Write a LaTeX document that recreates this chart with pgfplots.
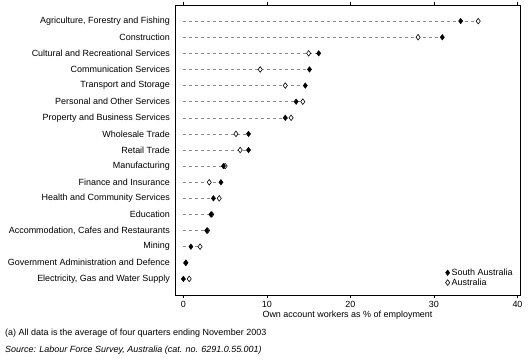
\documentclass[border=0pt]{standalone}
\usepackage{pgfplots}
\pgfplotsset{compat=1.18}
\usepackage{pgfplotstable}
\usepackage{fontspec}
\setmainfont{Liberation Sans}
\pgfplotstableread{
idx sa au
16 33.2 35.3
15 31.0 28.1
14 16.2 15.0
13 15.1 9.2
12 14.6 12.2
11 13.5 14.3
10 12.2 12.9
9 7.8 6.3
8 7.8 6.8
7 4.8 5.0
6 4.5 3.1
5 3.6 4.3
4 3.3 3.4
3 2.8 2.9
2 0.9 2.0
1 0.3 0.3
0 0.0 0.7
}\data
\begin{document}
\fontsize{9}{10.5}\selectfont
\begin{tikzpicture}
\useasboundingbox (-175bp,-68bp) rectangle (354bp,295bp);
\begin{axis}[
  scale only axis,
  width=345bp, height=290bp,
  xmin=-1, xmax=40.3,
  ymin=-1, ymax=17,
  xtick={0,10,20,30,40},
  ytick={0,...,16},
  yticklabels={{Electricity, Gas and Water Supply},{Government Administration and Defence},{Mining},{Accommodation, Cafes and Restaurants},{Education},{Health and Community Services},{Finance and Insurance},{Manufacturing},{Retail Trade},{Wholesale Trade},{Property and Business Services},{Personal and Other Services},{Transport and Storage},{Communication Services},{Cultural and Recreational Services},{Construction},{Agriculture, Forestry and Fishing}},
  y tick style={draw=none},
  x tick style={black, line width=0.5pt},
  tick align=outside,
  major tick length=3bp,
  xtick pos=both,
  xticklabel pos=bottom,
  axis line style={line width=0.6pt},
  /pgf/number format/assume math mode=true,
  tick label style={font=\fontsize{9}{10.5}\selectfont},
  yticklabel style={xshift=1bp},
  xlabel={Own account workers as \% of employment},
  xlabel style={font=\fontsize{9}{10.5}\selectfont, yshift=3bp},
  legend style={at={(0.775,0.015)}, anchor=south west, draw=none, fill=none,
    font=\fontsize{9}{10.5}\selectfont, row sep=-2pt,
    /tikz/every even column/.append style={column sep=1pt}},
  legend cell align=left,
  reverse legend,
]
\addplot[xcomb, gray!90, line width=0.5pt, dash pattern=on 3bp off 3bp, forget plot]
  table[y=idx, x expr={max(\thisrow{sa},\thisrow{au})}] {\data};
\addplot[only marks, mark=diamond*, mark size=2.8pt, mark options={fill=white, draw=black, line width=0.6pt}]
  table[y=idx, x=au] {\data};
\addlegendentry{Australia}
\addplot[only marks, mark=diamond*, mark size=2.8pt, mark options={fill=black, draw=black}]
  table[y=idx, x=sa] {\data};
\addlegendentry{South Australia}
\end{axis}
\node[anchor=west, font=\fontsize{9}{10.5}\selectfont] at (-173bp,-38bp) {(a) All data is the average of four quarters ending November 2003};
\node[anchor=west, font=\fontsize{9}{10.5}\selectfont\itshape] at (-173bp,-55bp) {Source: Labour Force Survey, Australia (cat. no. 6291.0.55.001)};
\end{tikzpicture}
\end{document}
